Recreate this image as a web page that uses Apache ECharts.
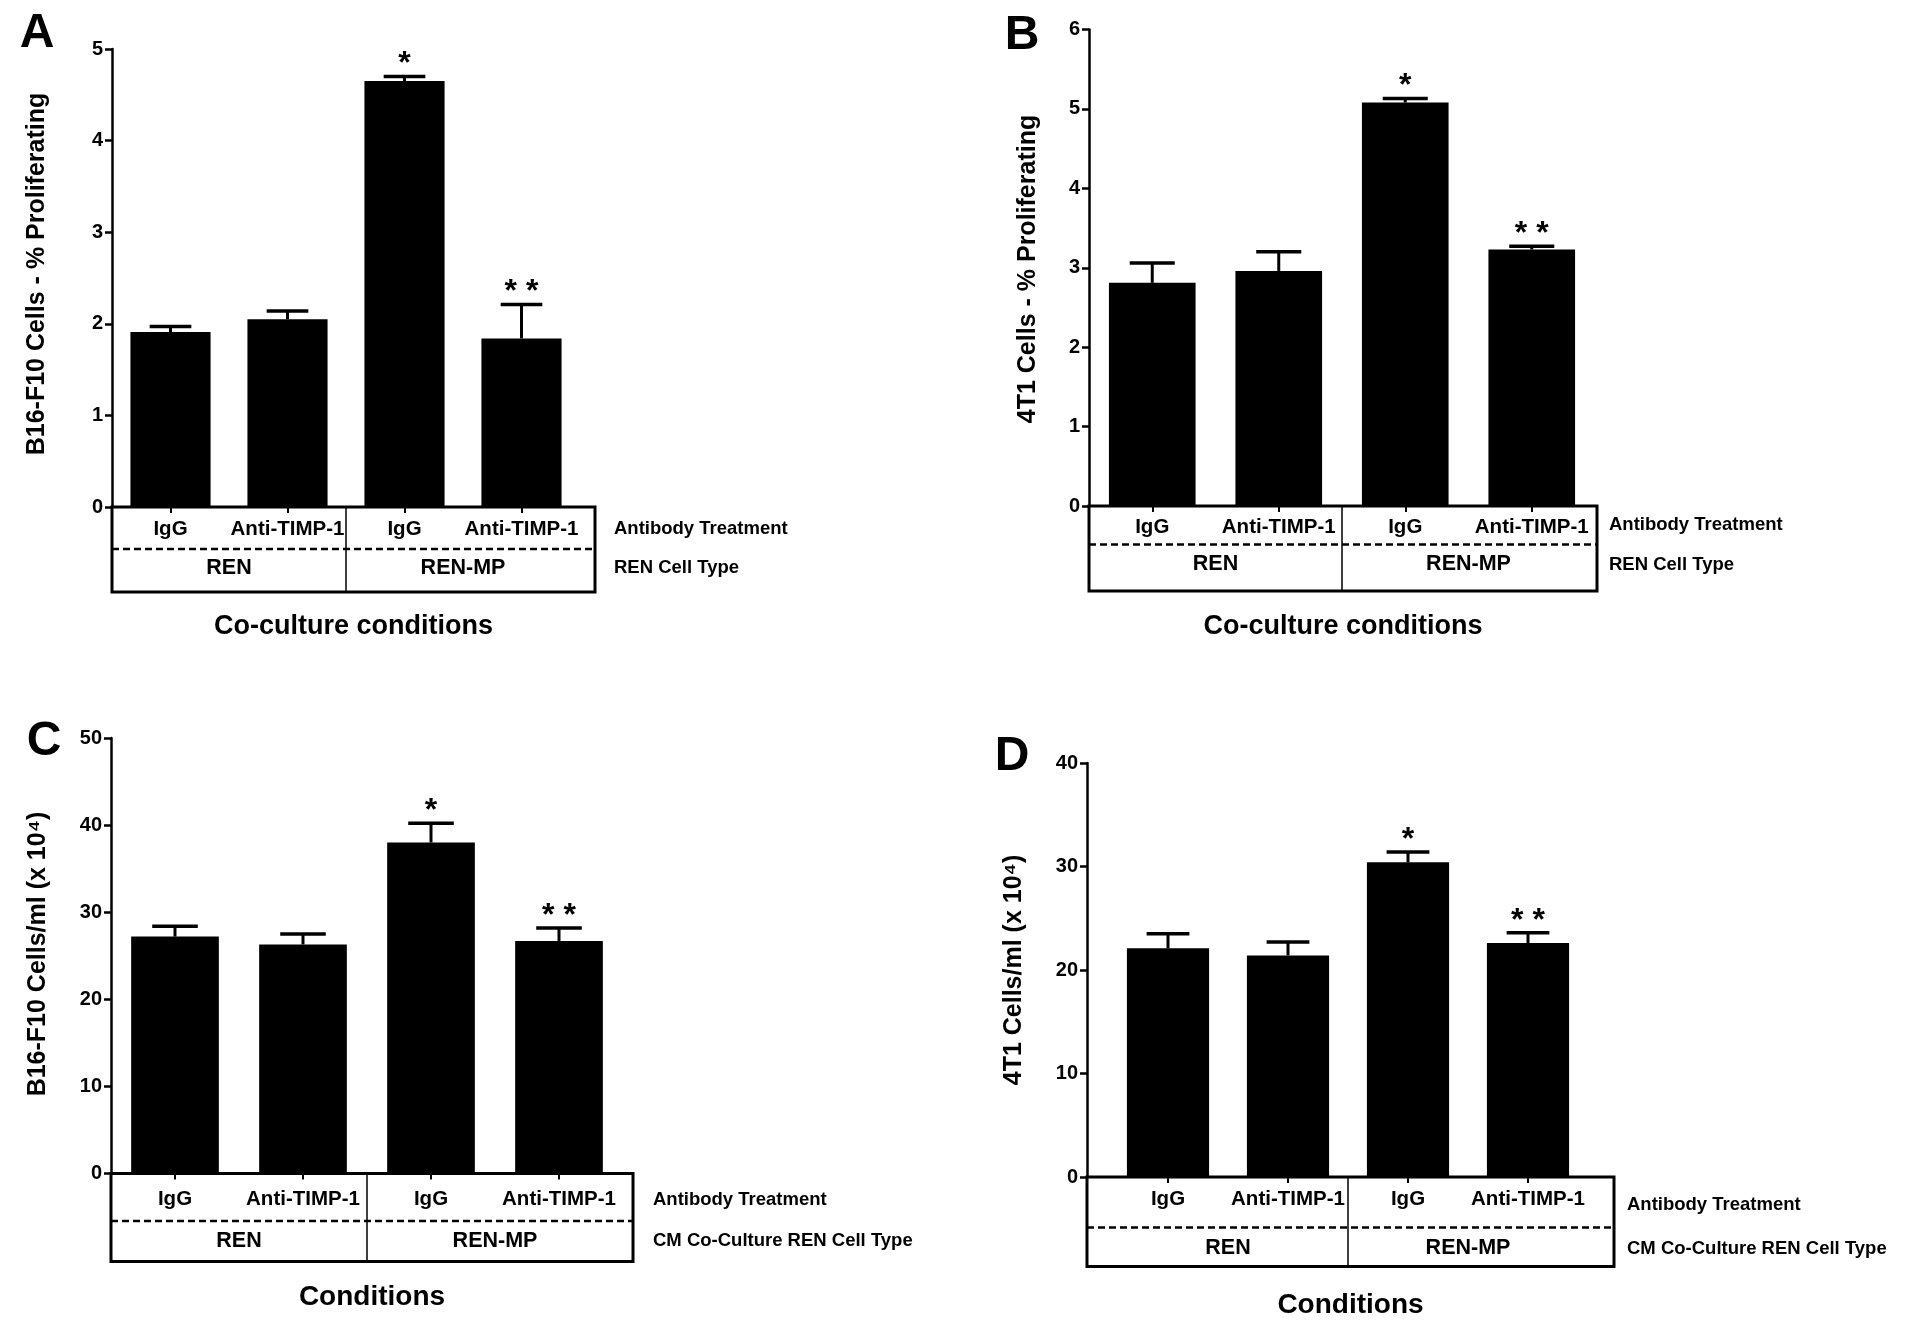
<!DOCTYPE html>
<html><head><meta charset="utf-8">
<script src="https://cdn.jsdelivr.net/npm/echarts@6/dist/echarts.min.js"></script>
<style>html,body{margin:0;padding:0;background:#fff}#c{width:1913px;height:1328px}</style>
</head><body><div id="c"></div>
<script>
// ---------- data ----------
const categories = ['IgG', 'Anti-TIMP-1', 'IgG', 'Anti-TIMP-1'];
const cellTypes = ['REN', 'REN-MP'];
const sigMarks = ['', '', '*', '* *'];

const meansA = [1.91, 2.05, 4.65, 1.84];
const errsA  = [0.06, 0.09, 0.05, 0.37];
const ticksA = [0, 1, 2, 3, 4, 5];

const meansB = [2.81, 2.96, 5.08, 3.23];
const errsB  = [0.25, 0.24, 0.05, 0.04];
const ticksB = [0, 1, 2, 3, 4, 5, 6];

const meansC = [27.2, 26.3, 38.0, 26.7];
const errsC  = [1.2, 1.2, 2.2, 1.5];
const ticksC = [0, 10, 20, 30, 40, 50];

const meansD = [22.1, 21.4, 30.4, 22.6];
const errsD  = [1.4, 1.3, 1.0, 1.0];
const ticksD = [0, 10, 20, 30, 40];

// ---------- panel texts & layout ----------
const FONT = '"Liberation Sans", Arial, Helvetica, sans-serif';
const panels = [
  {letter:'A', means:meansA, errs:errsA, ticks:ticksA,
   yName:'B16-F10 Cells - % Proliferating', xName:'Co-culture conditions',
   row1:'Antibody Treatment', row2:'REN Cell Type',
   L:{left:112, top:49, width:468, height:458, yOff:0, boxRight:595, depth:85, dash:42, row2:61,
      titleX:614, t1:22, t2:61, margin:12, xNameY:627, xNameSize:27, yNameX:37, yNameY:274, letterX:37, letterY:34}},
  {letter:'B', means:meansB, errs:errsB, ticks:ticksB,
   yName:'4T1 Cells - % Proliferating', xName:'Co-culture conditions',
   row1:'Antibody Treatment', row2:'REN Cell Type',
   L:{left:1089, top:29.5, width:506, height:476.5, yOff:0, boxRight:1597, depth:85, dash:38.5, row2:58.5,
      titleX:1609, t1:19, t2:59, margin:11, xNameY:627, xNameSize:27, yNameX:1028, yNameY:269, letterX:1022, letterY:36}},
  {letter:'C', means:meansC, errs:errsC, ticks:ticksC,
   yName:'B16-F10 Cells/ml (x 10\u2074)', xName:'Conditions',
   row1:'Antibody Treatment', row2:'CM Co-Culture REN Cell Type',
   L:{left:111, top:738, width:512, height:435.5, yOff:0, boxRight:633, depth:88, dash:47.5, row2:67.5,
      titleX:653, t1:26.5, t2:67.5, margin:15, xNameY:1297, xNameSize:28, yNameX:38, yNameY:954, letterX:44, letterY:742}},
  {letter:'D', means:meansD, errs:errsD, ticks:ticksD,
   yName:'4T1 Cells/ml (x 10\u2074)', xName:'Conditions',
   row1:'Antibody Treatment', row2:'CM Co-Culture REN Cell Type',
   L:{left:1108, top:763, width:480, height:414, yOff:21, boxRight:1614, depth:89.5, dash:50.5, row2:71,
      titleX:1627, t1:28, t2:72, margin:12, xNameY:1305, xNameSize:28, yNameX:1014, yNameY:970, letterX:1012, letterY:757}}
];

const BAR_RATIO = 0.685;
const chart = echarts.init(document.getElementById('c'), null, {renderer:'canvas'});

const grid = [], xAxis = [], yAxis = [], series = [];
panels.forEach((p, i) => {
  const L = p.L;
  grid.push({left:L.left, top:L.top, width:L.width, height:L.height, containLabel:false});
  xAxis.push({type:'category', gridIndex:i, data:categories,
    axisLine:{show:false},
    axisTick:{show:true, alignWithLabel:true, length:6, lineStyle:{color:'#000', width:2}},
    axisLabel:{color:'#000', fontFamily:FONT, fontWeight:'bold', fontSize:20.5, margin:L.margin, interval:0, hideOverlap:false},
    splitLine:{show:false}});
  yAxis.push({type:'value', gridIndex:i, min:p.ticks[0], max:p.ticks[p.ticks.length-1],
    interval:p.ticks[1]-p.ticks[0], offset:L.yOff,
    axisLine:{show:true, lineStyle:{color:'#000', width:2.5}},
    axisTick:{show:true, length:7, lineStyle:{color:'#000', width:2.5}},
    axisLabel:{color:'#000', fontFamily:FONT, fontWeight:'bold', fontSize:20, margin:9},
    splitLine:{show:false}});
  series.push({type:'bar', xAxisIndex:i, yAxisIndex:i, data:p.means, barWidth:(BAR_RATIO*100)+'%',
    itemStyle:{color:'#000'}, silent:true, animation:false});
  series.push({type:'custom', xAxisIndex:i, yAxisIndex:i, animation:false, silent:true, z:5,
    data:p.means.map((m, k) => [k, m, p.errs[k]]),
    renderItem:(params, api) => {
      const k = api.value(0), m = api.value(1), e = api.value(2);
      const base = api.coord([k, m]);
      const top = api.coord([k, m + e]);
      const bw = api.size([1, 0])[0] * BAR_RATIO;
      const cap = bw * 0.52;
      const children = [
        {type:'line', shape:{x1:base[0], y1:base[1], x2:top[0], y2:top[1]}, style:{stroke:'#000', lineWidth:3}},
        {type:'line', shape:{x1:top[0]-cap/2, y1:top[1], x2:top[0]+cap/2, y2:top[1]}, style:{stroke:'#000', lineWidth:3.5}}
      ];
      const s = sigMarks[params.dataIndex];
      if (s) children.push({type:'text', style:{text:s, x:top[0], y:top[1]-12, align:'center', verticalAlign:'middle',
        font:'bold 32px ' + FONT, fill:'#000'}});
      return {type:'group', children};
    }});
});

chart.setOption({backgroundColor:'#fff', animation:false, grid, xAxis, yAxis, series});

// ---------- table boxes & texts beneath the axes ----------
const graphics = [];
panels.forEach((p, i) => {
  const L = p.L;
  const y0 = chart.convertToPixel({gridIndex:i}, [0, 0])[1];
  const axisX = L.left - L.yOff;
  const c = categories.map((_, k) => chart.convertToPixel({gridIndex:i}, [k, 0])[0]);
  const divX = (c[1] + c[2]) / 2;
  graphics.push({type:'rect', shape:{x:axisX, y:y0, width:L.boxRight-axisX, height:L.depth},
    style:{fill:'none', stroke:'#000', lineWidth:3}, z:10});
  graphics.push({type:'line', shape:{x1:axisX, y1:y0+L.dash, x2:L.boxRight, y2:y0+L.dash},
    style:{stroke:'#000', lineWidth:2.5, lineDash:[7, 4]}, z:10});
  graphics.push({type:'line', shape:{x1:divX, y1:y0, x2:divX, y2:y0+L.depth},
    style:{stroke:'#000', lineWidth:1.5}, z:10});
  cellTypes.forEach((t, j) => {
    graphics.push({type:'text', x:(c[2*j] + c[2*j+1]) / 2, y:y0 + L.row2, z:10,
      style:{text:t, font:'bold 21.5px ' + FONT, fill:'#000', align:'center', verticalAlign:'middle'}});
  });
  graphics.push({type:'text', x:L.titleX, y:y0 + L.t1, z:10,
    style:{text:p.row1, font:'bold 18.5px ' + FONT, fill:'#000', align:'left', verticalAlign:'middle'}});
  graphics.push({type:'text', x:L.titleX, y:y0 + L.t2, z:10,
    style:{text:p.row2, font:'bold 18.5px ' + FONT, fill:'#000', align:'left', verticalAlign:'middle'}});
  graphics.push({type:'text', x:(axisX + L.boxRight) / 2, y:L.xNameY, z:10,
    style:{text:p.xName, font:'bold ' + L.xNameSize + 'px ' + FONT, fill:'#000', align:'center', verticalAlign:'middle'}});
  graphics.push({type:'text', x:L.yNameX, y:L.yNameY, rotation:Math.PI/2, z:10,
    style:{text:p.yName, font:'bold 25px ' + FONT, fill:'#000', align:'center', verticalAlign:'middle'}});
  graphics.push({type:'text', x:L.letterX, y:L.letterY, z:10,
    style:{text:p.letter, font:'bold 48px ' + FONT, fill:'#000', align:'center', verticalAlign:'middle'}});
});
chart.setOption({graphic:{elements:graphics}});
</script></body></html>
